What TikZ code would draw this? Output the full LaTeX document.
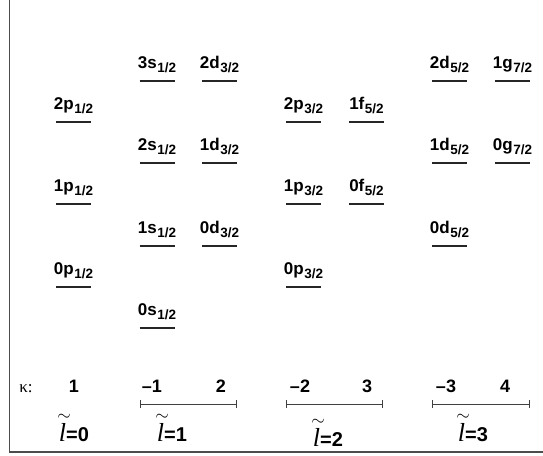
\documentclass[tikz,border=0pt]{standalone}
\usepackage{fontspec}
\setmainfont{Liberation Sans}
\newfontfamily\serifrm{Liberation Serif}
\usetikzlibrary{arrows.meta}
\newcommand{\lvl}[2]{#1\kern0.6pt\raisebox{-4.5pt}{\fontsize{13.5}{13.5}\selectfont #2}}
\newcommand{\ltil}{\makebox[0pt][l]{\hspace{-1.5pt}\raisebox{21pt}{\fontsize{16}{16}\selectfont$\sim$}}{\fontsize{26}{26}\selectfont\serifrm\mdseries\itshape l}}
\tikzset{
  frameline/.style = {gray!60!black,line width=1.4pt},
  lvlline/.style   = {black!85,line width=1.2pt},
  lvltxt/.style    = {anchor=base,inner sep=0pt,font=\fontsize{17}{19}\selectfont\bfseries},
  kaptxt/.style    = {anchor=base,inner sep=0pt,font=\fontsize{18}{20}\selectfont\bfseries},
  ltxt/.style      = {anchor=base,inner sep=0pt,font=\fontsize{20}{22}\selectfont\bfseries},
  lbar/.style      = {{Bar[width=8pt]}-{Bar[width=8pt]},gray!50!black,line width=0.9pt}
}
% name, x, y, orbital, j
\newcommand{\level}[5]{%
  \draw[lvlline] (#2-17.5,#3) -- (#2+17.5,#3);
  \node[lvltxt] (#1) at (#2,#3-13) {\lvl{#4}{#5}};
}

\begin{document}
\begin{tikzpicture}[x=1pt,y=-1pt]
  \useasboundingbox (0,0) rectangle (543,455);
  \draw[frameline] (9.5,-2) -- (9.5,452) -- (545,452);

  % kappa = 1
  \level{pa2}{73.5}{122}{2p}{1/2}
  \level{pa1}{73.5}{204}{1p}{1/2}
  \level{pa0}{73.5}{287}{0p}{1/2}
  % kappa = -1, 2
  \level{s3}{157}{81}{3s}{1/2}
  \level{s2}{157}{163}{2s}{1/2}
  \level{s1}{157}{246}{1s}{1/2}
  \level{s0}{157}{328}{0s}{1/2}
  \level{da2}{219.5}{81}{2d}{3/2}
  \level{da1}{219.5}{163}{1d}{3/2}
  \level{da0}{219.5}{246}{0d}{3/2}
  % kappa = -2, 3
  \level{pb2}{303.5}{122}{2p}{3/2}
  \level{pb1}{303.5}{204}{1p}{3/2}
  \level{pb0}{303.5}{287}{0p}{3/2}
  \level{f1}{366.5}{122}{1f}{5/2}
  \level{f0}{366.5}{204}{0f}{5/2}
  % kappa = -3, 4
  \level{db2}{449.5}{81}{2d}{5/2}
  \level{db1}{449.5}{163}{1d}{5/2}
  \level{db0}{449.5}{246}{0d}{5/2}
  \level{g1}{512.5}{81}{1g}{7/2}
  \level{g0}{512.5}{163}{0g}{7/2}

  \node[anchor=base,inner sep=0pt,font=\fontsize{17}{19}\selectfont\serifrm] (kap) at (26,392) {κ:};
  \node[kaptxt] (k1)  at (74,392)  {1};
  \node[kaptxt] (km1) at (152,392) {–1};
  \node[kaptxt] (k2)  at (221,392) {2};
  \node[kaptxt] (km2) at (300,392) {–2};
  \node[kaptxt] (k3)  at (367,392) {3};
  \node[kaptxt] (km3) at (446,392) {–3};
  \node[kaptxt] (k4)  at (505,392) {4};

  \draw[lbar] (140,404) -- (237,404);
  \draw[lbar] (286,404) -- (383,404);
  \draw[lbar] (432,404) -- (530,404);

  \node[ltxt] (l0) at (74,441)  {\ltil=0};
  \node[ltxt] (l1) at (172,441) {\ltil=1};
  \node[ltxt] (l2) at (328,446) {\ltil=2};
  \node[ltxt] (l3) at (473,441) {\ltil=3};
\end{tikzpicture}
\end{document}
